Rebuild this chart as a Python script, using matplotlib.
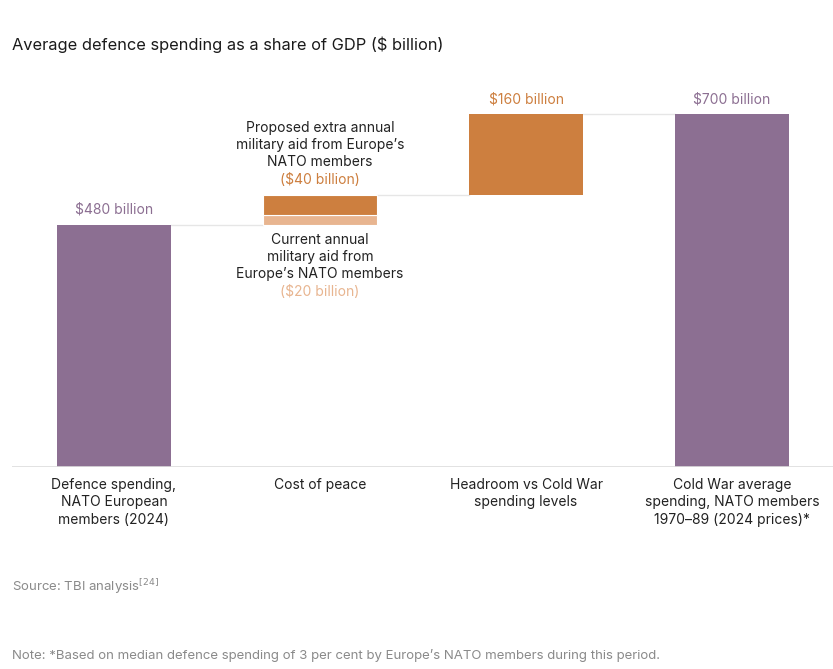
import matplotlib
matplotlib.use("Agg")
import matplotlib.pyplot as plt

plt.rcParams['font.family'] = ['Inter', 'DejaVu Sans']

cats = ["Defence spending,\nNATO European\nmembers (2024)", "Cost of peace",
        "Headroom vs Cold War\nspending levels",
        "Cold War average\nspending, NATO members\n1970\u201389 (2024 prices)*"]
current_spend = 480
aid_current = 20
aid_extra = 40
headroom = 160
cold_war = 700

purple = "#8c6f92"
orange = "#cd7f3f"
light_orange = "#e8b590"
grey_line = "#e6e6e6"

fig = plt.figure(figsize=(8.33, 6.69), dpi=100)
ax = fig.add_axes([12 / 833, 0.302, 1 - 12 / 833, 0.6026])
w = 0.553

ax.bar(0, current_spend, width=w, color=purple)
ax.bar(1, aid_current, bottom=current_spend, width=w, color=light_orange,
       edgecolor="white", linewidth=0.8)
ax.bar(1, aid_extra, bottom=current_spend + aid_current, width=w, color=orange,
       edgecolor="white", linewidth=0.8)
ax.bar(2, headroom, bottom=current_spend + aid_current + aid_extra, width=w, color=orange)
ax.bar(3, cold_war, width=w, color=purple)

# connectors
lvl1 = current_spend
lvl2 = current_spend + aid_current + aid_extra
lvl3 = lvl2 + headroom
for x0, y in [(0, lvl1), (1, lvl2), (2, lvl3)]:
    ax.plot([x0 + w / 2, x0 + 1 - w / 2], [y, y], color=grey_line, lw=1, zorder=0)

ax.axhline(0, color="#dddddd", lw=1.2)
ax.set_xlim(-0.495, 3.49)
ax.set_ylim(0, 800)
ax.axis("off")

# value labels
ax.text(0, current_spend + 30, "$480 billion", ha="center", va="center", color=purple, fontsize=10)
ax.text(2, cold_war + 30, "$160 billion", ha="center", va="center", color=orange, fontsize=10)
ax.text(3, cold_war + 30, "$700 billion", ha="center", va="center", color=purple, fontsize=10)

ax.text(1, 639, "Proposed extra annual\nmilitary aid from Europe\u2019s\nNATO members",
        ha="center", va="center", color="#222222", fontsize=10, linespacing=1.3)
ax.text(1, 569, "($40 billion)", ha="center", va="center", color=orange, fontsize=10)
ax.text(1, 417, "Current annual\nmilitary aid from\nEurope\u2019s NATO members",
        ha="center", va="center", color="#222222", fontsize=10, linespacing=1.3)
ax.text(1, 347, "($20 billion)", ha="center", va="center", color=light_orange, fontsize=10)

for i, c in enumerate(cats):
    ax.text(i, -22, c, ha="center", va="top", color="#222222", fontsize=10, linespacing=1.3)

fig.text(12 / 833, 1 - 45 / 669, "Average defence spending as a share of GDP ($ billion)",
         ha="left", va="center", fontsize=11.8, color="#1a1a1a")
fig.text(12 / 833, 1 - 587 / 669, r"Source: TBI analysis$^{[24]}$",
         ha="left", va="center", fontsize=9.5, color="#8a8a8a")
fig.text(12 / 833, 1 - 656 / 669,
         "Note: *Based on median defence spending of 3 per cent by Europe\u2019s NATO members during this period.",
         ha="left", va="center", fontsize=9.5, color="#8a8a8a")

fig.savefig("out.png", dpi=100, facecolor="white")
